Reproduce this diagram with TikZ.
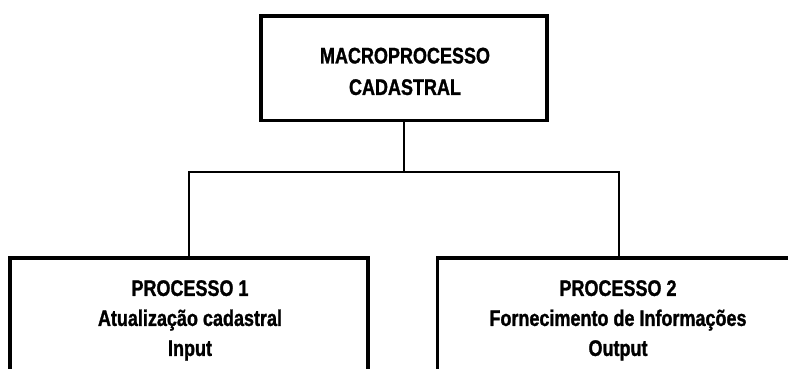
\documentclass[tikz,border=0pt]{standalone}
\usepackage{fontspec}
% condensed, heavy bold sans for all captions
\newfontfamily\narrowsans[FakeStretch=0.80, BoldFeatures={FakeBold=1.2}]{Liberation Sans}
\begin{document}
\begin{tikzpicture}[x=1pt,y=-1pt,
  box/.style={draw=black, line width=3.7pt, rectangle, inner sep=0pt, outer sep=0pt, anchor=north west},
  link/.style={draw=black, line width=1.7pt},
  caption/.style={font=\narrowsans\bfseries\fontsize{22.5}{#1}\selectfont, align=center, inner sep=0pt, anchor=north},
  caption/.default=30]
\useasboundingbox (0,0) rectangle (788,369);
\clip (0,0) rectangle (788,369);

% boxes
\node[box, minimum width=286.2pt, minimum height=104.5pt] (top) at (260.8,16) {};
\node[box, minimum width=358pt, minimum height=160pt] (p1) at (10.3,257.7) {};
\node[box, minimum width=363pt, minimum height=160pt] (p2) at (437.5,257.7) {};

% captions
\node[caption=31.5] (ttop) at (405,47.5) {MACROPROCESSO\\CADASTRAL};
\node[caption] (tp1) at (190,280) {PROCESSO 1\\Atualização cadastral\\Input};
\node[caption] (tp2) at (618,280) {PROCESSO 2\\Fornecimento de Informações\\Output};

% hierarchy connectors
\path (top.south) ++(0,51.2) coordinate (hub);
\draw[link] (top.south) -- (hub);
\draw[link] (p1.north) |- (hub) -| (p2.north);
\end{tikzpicture}
\end{document}
